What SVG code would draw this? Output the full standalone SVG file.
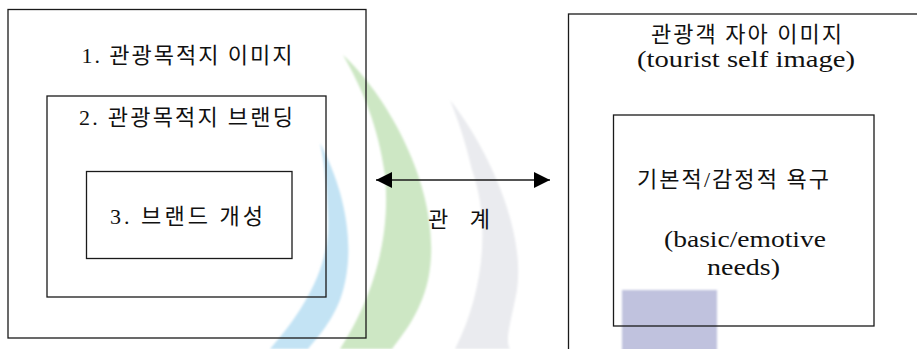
<svg xmlns="http://www.w3.org/2000/svg" width="917" height="349" viewBox="0 0 917 349">
<style>
.box{fill:none;stroke:#1a1a1a;stroke-width:1.3}
.t{font-family:"Liberation Serif","Noto Sans CJK KR",serif;font-size:22px;fill:#111;text-anchor:middle}
.e{font-size:23px}
.ln{stroke:#1a1a1a;stroke-width:1.3;fill:none}
</style>
<defs>
<marker id="ah" viewBox="0 0 16 16" refX="16" refY="8" markerWidth="16" markerHeight="16" markerUnits="userSpaceOnUse" orient="auto-start-reverse">
<path d="M0,0 L16,8 L0,16 Z" fill="#000"/>
</marker>
<filter id="blur" x="-20%" y="-20%" width="140%" height="140%"><feGaussianBlur stdDeviation="1.2"/></filter>
</defs>
<rect width="917" height="349" fill="#fff"/>
<g id="watermark" filter="url(#blur)">
<path d="M343,55 C392,100 445,200 428,280 C420,315 402,335 392,349 L340,349 C365,310 392,250 385,175 C378,125 362,88 343,55 Z" fill="#cde7c4"/>
<path d="M320,143 C345,190 358,250 340,300 C330,325 315,340 308,349 L270,349 C300,315 330,270 328,220 C327,190 325,165 320,143 Z" fill="#c3e3f4"/>
<path d="M450,100 C490,150 530,240 515,300 C510,325 505,340 510,349 L455,349 C485,290 490,220 472,170 C465,140 458,120 450,100 Z" fill="#eaebef"/>
<rect x="622" y="290" width="95" height="70" fill="#c0c2de"/>
</g>
<g id="outer-left">
<rect class="box" x="8" y="9.5" width="358" height="328.5"/>
<text class="t" x="187" y="63" textLength="211" lengthAdjust="spacing">1. 관광목적지 이미지</text>
</g>
<g id="branding">
<rect class="box" x="47" y="96" width="279" height="201"/>
<text class="t" x="186" y="125" textLength="214" lengthAdjust="spacing">2. 관광목적지 브랜딩</text>
</g>
<g id="personality">
<rect class="box" x="86.5" y="171.5" width="205.5" height="87"/>
<text class="t" x="186.5" y="224" textLength="153" lengthAdjust="spacing">3. 브랜드 개성</text>
</g>
<g id="self-image">
<rect class="box" x="568.5" y="14" width="400" height="400"/>
<text class="t" x="746.5" y="42" textLength="191" lengthAdjust="spacing">관광객 자아 이미지</text>
<text class="t e" x="746" y="67" textLength="218" lengthAdjust="spacingAndGlyphs">(tourist self image)</text>
</g>
<g id="needs">
<rect class="box" x="613.5" y="115" width="260.5" height="211"/>
<text class="t" x="733" y="187" textLength="192" lengthAdjust="spacing">기본적/감정적 욕구</text>
<text class="t e" x="745" y="247" textLength="162" lengthAdjust="spacingAndGlyphs">(basic/emotive</text>
<text class="t e" x="743.5" y="275" textLength="73" lengthAdjust="spacingAndGlyphs">needs)</text>
</g>
<g id="connectors">
<line class="ln" x1="376" y1="180" x2="550" y2="180" marker-start="url(#ah)" marker-end="url(#ah)"/>
<text class="t" x="459" y="227" textLength="62" lengthAdjust="spacing">관 계</text>
</g>
</svg>
